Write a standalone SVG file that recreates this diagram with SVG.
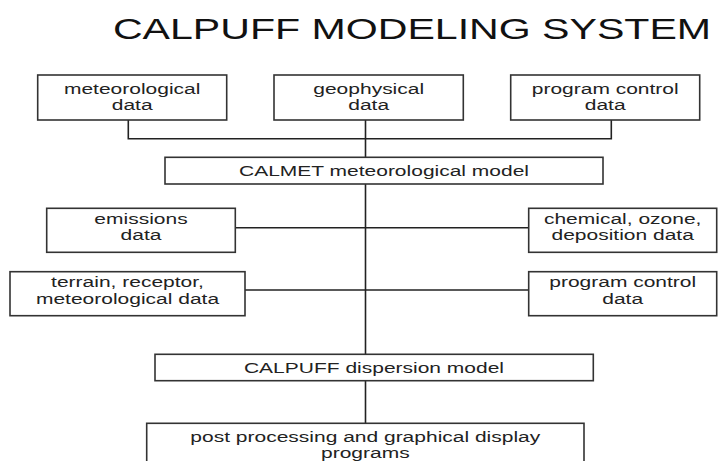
<svg xmlns="http://www.w3.org/2000/svg" width="718" height="461" viewBox="0 0 718 461">
<style>
.box{fill:#fff;stroke:#333;stroke-width:1.6}
.ln{stroke:#222;stroke-width:1.6;fill:none}
.t{font-family:"Liberation Sans",Arial,sans-serif;font-size:15px;fill:#222;text-anchor:middle}
.title{font-family:"Liberation Sans",Arial,sans-serif;font-size:30px;fill:#111;text-anchor:middle}
</style>
<rect width="718" height="461" fill="#fff"/>
<text class="title" transform="translate(412,38.5) scale(1.37,1)">CALPUFF MODELING SYSTEM</text>
<g id="connectors">
<path class="ln" d="M128.3,120 V138.7 H611.3 V120"/>
<path class="ln" d="M365.5,120 V157.3 M365.5,184 V354.3 M365.5,380.7 V423.3"/>
<path class="ln" d="M235.3,227.7 H528.7"/>
<path class="ln" d="M245,290 H528.7"/>
</g>
<g id="meteorological-data">
<rect class="box" x="37.7" y="75" width="189" height="45"/>
<text class="t" transform="translate(132.2,93.8) scale(1.4,1)">meteorological</text>
<text class="t" transform="translate(132.2,109.6) scale(1.4,1)">data</text>
</g>
<g id="geophysical-data">
<rect class="box" x="274" y="75" width="189.3" height="45"/>
<text class="t" transform="translate(368.7,93.8) scale(1.4,1)">geophysical</text>
<text class="t" transform="translate(368.7,109.6) scale(1.4,1)">data</text>
</g>
<g id="program-control-data-1">
<rect class="box" x="510.7" y="75" width="189" height="45"/>
<text class="t" transform="translate(605.2,93.8) scale(1.4,1)">program control</text>
<text class="t" transform="translate(605.2,109.6) scale(1.4,1)">data</text>
</g>
<g id="calmet">
<rect class="box" x="165" y="157.3" width="438" height="26.7"/>
<text class="t" transform="translate(384,176.3) scale(1.4,1)">CALMET meteorological model</text>
</g>
<g id="emissions-data">
<rect class="box" x="46.7" y="208.3" width="188.6" height="44"/>
<text class="t" transform="translate(141,224) scale(1.4,1)">emissions</text>
<text class="t" transform="translate(141,240.3) scale(1.4,1)">data</text>
</g>
<g id="chemical-data">
<rect class="box" x="528.7" y="208.3" width="188" height="44"/>
<text class="t" transform="translate(622.7,224) scale(1.4,1)">chemical, ozone,</text>
<text class="t" transform="translate(622.7,240.3) scale(1.4,1)">deposition data</text>
</g>
<g id="terrain-data">
<rect class="box" x="10" y="271.7" width="235" height="44"/>
<text class="t" transform="translate(127.5,287.4) scale(1.4,1)">terrain, receptor,</text>
<text class="t" transform="translate(127.5,303.7) scale(1.4,1)">meteorological data</text>
</g>
<g id="program-control-data-2">
<rect class="box" x="528.7" y="271.7" width="188" height="44"/>
<text class="t" transform="translate(622.7,287.4) scale(1.4,1)">program control</text>
<text class="t" transform="translate(622.7,303.7) scale(1.4,1)">data</text>
</g>
<g id="calpuff">
<rect class="box" x="155" y="354.3" width="438.3" height="26.4"/>
<text class="t" transform="translate(374,373.2) scale(1.4,1)">CALPUFF dispersion model</text>
</g>
<g id="post-processing">
<rect class="box" x="146.7" y="423.3" width="437.3" height="50"/>
<text class="t" transform="translate(365.3,441.6) scale(1.4,1)">post processing and graphical display</text>
<text class="t" transform="translate(365.3,457.6) scale(1.4,1)">programs</text>
</g>
</svg>
